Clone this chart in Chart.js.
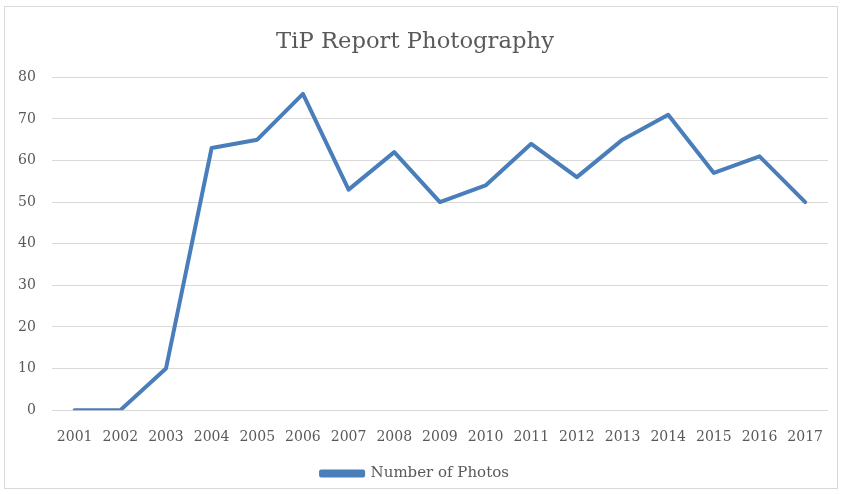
<!DOCTYPE html>
<html><head><meta charset="utf-8">
<script src="https://cdn.jsdelivr.net/npm/chart.js@4"></script>
<style>
html,body{margin:0;padding:0;background:#fff;}
#wrap{position:relative;width:845px;height:494px;}
#frame{position:absolute;left:4px;top:6px;width:834px;height:483px;border:1px solid #d9d9d9;box-sizing:border-box;pointer-events:none;}
canvas{position:absolute;left:0;top:0;}
</style></head>
<body>
<div id="wrap"><canvas id="c" width="845" height="494"></canvas><div id="frame"></div></div>
<script>
const years = ['2001','2002','2003','2004','2005','2006','2007','2008','2009','2010','2011','2012','2013','2014','2015','2016','2017'];
const photos = [0,0,10,63,65,76,53,62,50,54,64,56,65,71,57,61,50];
const yTicks = [0,10,20,30,40,50,60,70,80];
const seriesName = 'Number of Photos';
const chartTitle = 'TiP Report Photography';

const blue = '#4a7ebb';
const txt = '#595959';
const serif = "'DejaVu Serif', serif";

new Chart(document.getElementById('c'), {
  type: 'line',
  data: {
    labels: years,
    datasets: [{
      label: seriesName,
      data: photos,
      borderColor: blue,
      backgroundColor: blue,
      borderWidth: 4,
      pointRadius: 0,
      tension: 0,
      borderJoinStyle: 'round',
      borderCapStyle: 'round'
    }]
  },
  options: {
    responsive: false,
    animation: false,
    layout: { padding: { left: 2, right: 17, top: 22, bottom: 3 } },
    plugins: {
      title: {
        display: true, text: chartTitle, color: txt,
        font: { family: serif, size: 22.7, weight: 'normal' },
        padding: { top: 6, bottom: 22 }
      },
      legend: {
        position: 'bottom',
        labels: {
          color: txt, boxWidth: 42, boxHeight: 4,
          font: { family: serif, size: 15 },
          padding: 9
        }
      },
      tooltip: { enabled: false }
    },
    scales: {
      x: {
        offset: true,
        grid: { display: false },
        border: { display: false },
        ticks: { color: txt, font: { family: serif, size: 14 }, maxRotation: 0, autoSkip: false, padding: 11 }
      },
      y: {
        min: 0, max: 80,
        afterBuildTicks: (axis) => { axis.ticks = yTicks.map(v => ({ value: v })); },
        grid: { color: '#d9d9d9', lineWidth: 1, drawTicks: false },
        border: { display: false },
        ticks: { color: txt, font: { family: serif, size: 14 }, padding: 16 }
      }
    }
  }
});
</script>
</body></html>
